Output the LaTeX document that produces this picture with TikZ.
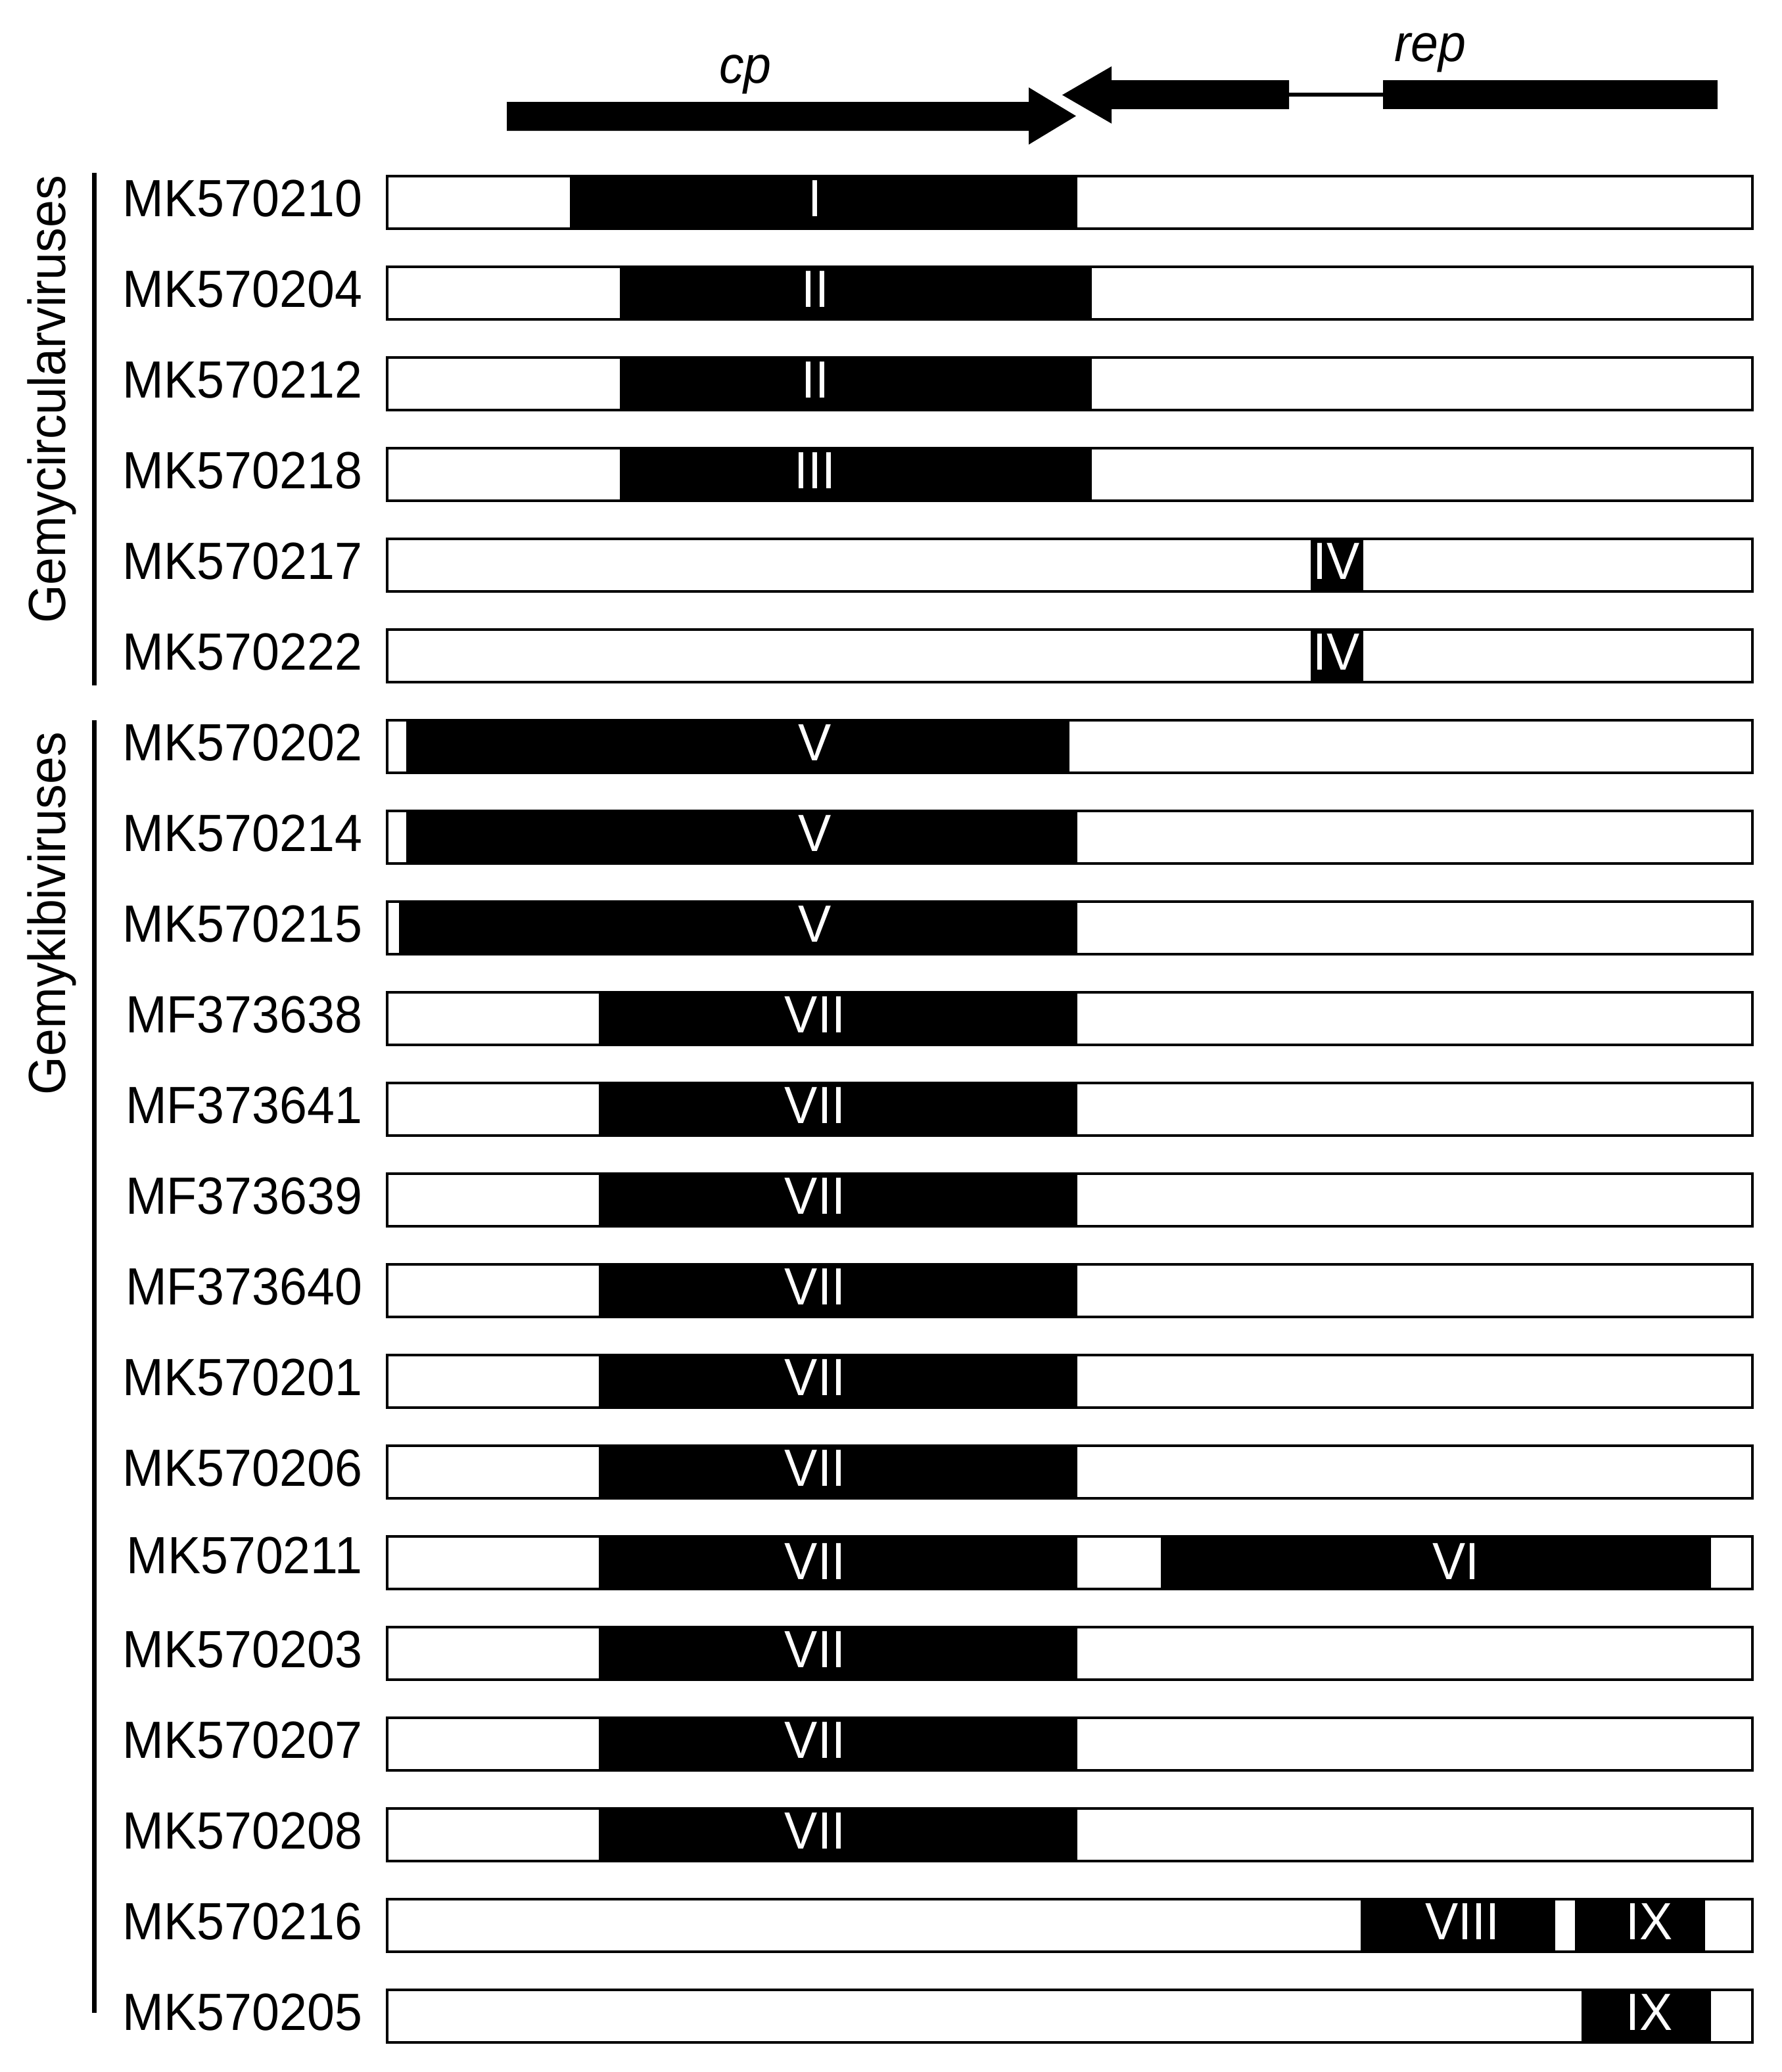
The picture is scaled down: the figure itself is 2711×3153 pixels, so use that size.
\documentclass[tikz,border=0pt]{standalone}
\usepackage{fontspec}
\setmainfont{Liberation Sans}[FakeStretch=0.945]
\begin{document}
\begin{tikzpicture}[x=0.01cm,y=-0.01cm,
  lab/.style={font=\fontsize{22.65}{27}\selectfont, inner sep=0pt, outer sep=0pt},
  ital/.style={font=\fontsize{22.65}{27}\selectfont\itshape, inner sep=0pt, outer sep=0pt, anchor=base},
  num/.style={lab, text=white, anchor=base},
  barbox/.style={draw=black, line width=0.04cm, fill=white},
  grpline/.style={line width=0.065cm}]
\useasboundingbox (0,0) rectangle (2711,3153);
\fill[white] (0,0) rectangle (2711,3153);

% gene map arrows
\fill (771,155) -- (1565,155) -- (1565,133) -- (1637,176.5) -- (1565,220) -- (1565,199) -- (771,199) -- cycle;
\fill (1616,144.5) -- (1691,101) -- (1691,122) -- (1961,122) -- (1961,166) -- (1691,166) -- (1691,188) -- cycle;
\draw[line width=0.06cm] (1960,144) -- (2105,144);
\fill (2104,122) rectangle (2613,166);
\node[ital] (cp) at (1134,126) {cp};
\node[ital] (rep) at (2176,93) {rep};

% bars and labels
\foreach \i/\nm/\dy in {0/MK570210/0,1/MK570204/0,2/MK570212/0,3/MK570218/0,4/MK570217/0,5/MK570222/0,
  6/MK570202/0,7/MK570214/0,8/MK570215/0,9/MF373638/0,10/MF373641/0,11/MF373639/0,12/MF373640/0,
  13/MK570201/0,14/MK570206/0,15/MK570211/-5,16/MK570203/0,17/MK570207/0,18/MK570208/0,
  19/MK570216/0,20/MK570205/0}{
  \draw[barbox] (589,{268+138*\i}) rectangle (2666,{348+138*\i});
  \node[lab, anchor=base east] (lab\i) at (551,{329+138*\i+\dy}) {\nm};
}

% black segments
\foreach \i/\a/\b in {0/867/1639,1/943/1661,2/943/1661,3/943/1661,4/1994/2074,5/1994/2074,
  6/618/1627,7/618/1639,8/607/1639,9/911/1639,10/911/1639,11/911/1639,12/911/1639,
  13/911/1639,14/911/1639,15/911/1639,15/1766/2603,16/911/1639,17/911/1639,18/911/1639,
  19/2070/2366,19/2396/2594,20/2406/2603}{
  \fill (\a,{266+138*\i}) rectangle (\b,{350+138*\i});
}

% numerals
\foreach \k/\i/\x/\t/\dy in {a/0/1240/I/0,b/1/1240/II/0,c/2/1240/II/0,d/3/1240/III/0,e/4/2033/IV/0,f/5/2033/IV/0,
  g/6/1240/V/0,h/7/1240/V/0,j/8/1240/V/0,k/9/1240/VII/0,l/10/1240/VII/0,m/11/1240/VII/0,n/12/1240/VII/0,
  o/13/1240/VII/0,p/14/1240/VII/0,q/15/1240/VII/4,r/15/2215/VI/4,s/16/1240/VII/0,t/17/1240/VII/0,u/18/1240/VII/0,
  v/19/2225/VIII/0,w/19/2509/IX/0,z/20/2509/IX/0}{
  \node[num] (num\k) at (\x,{329+138*\i+\dy}) {\t};
}

% group brackets
\draw[grpline] (143.5,263) -- (143.5,1043);
\draw[grpline] (143.5,1096) -- (143.5,3063);
\node[lab, rotate=90, anchor=base] (g1) at (100,608) {Gemycircularviruses};
\node[lab, rotate=90, anchor=base] (g2) at (100,1390) {Gemykibiviruses};
\end{tikzpicture}
\end{document}
